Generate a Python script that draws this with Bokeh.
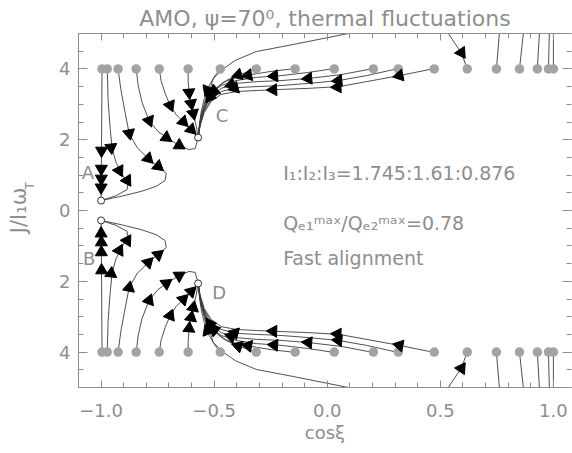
import math
from bokeh.plotting import figure
from bokeh.models import LinearAxis, FixedTicker, CustomJSTickFormatter, Range1d, Label
from bokeh.embed import file_html
from bokeh.resources import INLINE

# ---------------- data (cos xi, J/I1 wT) ----------------
start_cos = [-0.996, -0.973, -0.925, -0.845, -0.743, -0.615, -0.473, -0.314, -0.142,
             0.031, 0.204, 0.314, 0.473, 0.619, 0.748, 0.850, 0.929, 0.978, 1.000]
start_J = 4.0

attr_cos = [-1.0, -1.0, -0.571, -0.571]
attr_J = [0.28, -0.28, 2.06, -2.06]
attr_names = ["A", "B", "C", "D"]

# upper-half trajectories (lower half is their mirror image)
t1_c = [-0.996, -0.998, -1.000]
t1_j = [4.00, 2.00, 0.28]
a1_c = [-0.998, -0.999, -0.999, -1.000]
a1_j = [1.69, 1.18, 0.90, 0.65]

t2_c = [-0.973, -0.969, -0.960, -0.951, -0.934, -0.907, -0.881, -0.885, -0.934, -1.000]
t2_j = [4.01, 3.11, 2.32, 1.75, 1.36, 1.02, 0.76, 0.59, 0.42, 0.28]
a2_c = [-0.956, -0.920, -0.885]
a2_j = [1.78, 1.13, 0.85]

t3_c = [-0.925, -0.912, -0.894, -0.876, -0.841, -0.792, -0.748, -0.712, -0.717, -0.757, -0.823, -0.912, -1.000]
t3_j = [4.00, 3.39, 2.77, 2.18, 1.78, 1.47, 1.24, 1.05, 0.85, 0.68, 0.54, 0.40, 0.28]
a3_c = [-0.876, -0.792, -0.748]
a3_j = [2.18, 1.47, 1.25]

t4_c = [-0.845, -0.836, -0.819, -0.788, -0.748, -0.699, -0.655, -0.611, -0.584, -0.571]
t4_j = [4.01, 3.53, 3.05, 2.54, 2.23, 2.01, 1.84, 1.72, 1.75, 2.06]
a4_c = [-0.788, -0.712, -0.655]
a4_j = [2.54, 2.06, 1.84]

t5_c = [-0.743, -0.735, -0.717, -0.695, -0.668, -0.637, -0.602, -0.571]
t5_j = [4.01, 3.67, 3.31, 2.97, 2.71, 2.51, 2.29, 2.06]
a5_c = [-0.695, -0.637, -0.602]
a5_j = [2.97, 2.51, 2.29]

t6_c = [-0.615, -0.615, -0.611, -0.602, -0.593, -0.580, -0.571]
t6_j = [4.01, 3.67, 3.33, 3.02, 2.74, 2.40, 2.06]
a6_c = [-0.611, -0.602, -0.593]
a6_j = [3.33, 3.02, 2.74]

t7_c = [-0.473, -0.496, -0.522, -0.544, -0.558, -0.566, -0.571]
t7_j = [4.01, 3.81, 3.53, 3.16, 2.77, 2.40, 2.06]
a7_c = [-0.530]
a7_j = [3.40]

t8_c = [-0.314, -0.358, -0.403, -0.447, -0.491, -0.527, -0.553, -0.566, -0.571]
t8_j = [4.01, 3.90, 3.81, 3.67, 3.45, 3.11, 2.68, 2.34, 2.06]
a8_c = [-0.394, -0.520]
a8_j = [3.83, 3.20]

t9_c = [-0.142, -0.248, -0.336, -0.403, -0.460, -0.504, -0.535, -0.558, -0.571]
t9_j = [4.01, 3.93, 3.84, 3.76, 3.62, 3.39, 3.05, 2.66, 2.06]
a9_c = [-0.350, -0.513]
a9_j = [3.82, 3.30]

t10_c = [0.031, -0.084, -0.204, -0.314, -0.403, -0.469, -0.513, -0.544, -0.562, -0.571]
t10_j = [4.01, 3.90, 3.81, 3.76, 3.67, 3.53, 3.31, 2.97, 2.54, 2.06]
a10_c = [-0.235, -0.500]
a10_j = [3.80, 3.38]

t11_c = [0.204, 0.062, -0.084, -0.204, -0.314, -0.403, -0.469, -0.513, -0.544, -0.562, -0.571]
t11_j = [4.01, 3.84, 3.73, 3.67, 3.64, 3.59, 3.45, 3.22, 2.88, 2.49, 2.06]
a11_c = [-0.084, -0.425]
a11_j = [3.73, 3.56]

t12_c = [0.314, 0.173, 0.049, -0.084, -0.204, -0.314, -0.403, -0.469, -0.513, -0.544, -0.562, -0.571]
t12_j = [4.01, 3.81, 3.67, 3.59, 3.53, 3.50, 3.47, 3.36, 3.14, 2.82, 2.43, 2.06]
a12_c = [0.049, -0.410]
a12_j = [3.67, 3.46]

t13_c = [0.473, 0.319, 0.173, 0.053, -0.084, -0.204, -0.314, -0.403, -0.469, -0.513, -0.544, -0.562, -0.571]
t13_j = [4.01, 3.81, 3.64, 3.50, 3.45, 3.42, 3.39, 3.36, 3.28, 3.08, 2.77, 2.40, 2.06]
a13_c = [0.319, 0.045, -0.239]
a13_j = [3.81, 3.49, 3.41]

t_out_c = [0.093, -0.150, -0.314, -0.407, -0.460, -0.504, -0.515, -0.540, -0.558, -0.571]
t_out_j = [5.00, 4.69, 4.49, 4.24, 4.00, 3.73, 3.50, 3.10, 2.66, 2.06]

t14_c = [0.535, 0.593, 0.619]
t14_j = [5.00, 4.45, 4.00]
a14_c = [0.593]
a14_j = [4.46]

t15_c = [0.761, 0.748]
t15_j = [5.00, 4.00]
t16_c = [0.867, 0.850]
t16_j = [5.00, 4.00]
t17_c = [0.938, 0.929]
t17_j = [5.00, 4.00]
t18_c = [0.982, 0.978]
t18_j = [5.00, 4.00]
t19_c = [1.000, 1.000]
t19_j = [5.00, 4.00]

x_major = [-1.0, -0.5, 0.0, 0.5, 1.0]
y_major = [-4, -2, 0, 2, 4]

title_text = "AMO, \u03c8=70\u2070, thermal fluctuations"
x_label = "cos\u03be"
y_label_main = "J/I\u2081\u03c9"
y_label_sub = "T"
info_lines = ["I\u2081:I\u2082:I\u2083=1.745:1.61:0.876",
              "Q\u2091\u2081\u1d50\u1d43\u02e3/Q\u2091\u2082\u1d50\u1d43\u02e3=0.78",
              "Fast alignment"]

# ---------------- layout ----------------
W, H = 572, 453
BL, BR, BT, BB = 78, 1, 33, 66
x0, x1 = -1.1, 1.08
y0, y1 = -5.0, 5.0
FW, FH = W - BL - BR, H - BT - BB
KX, KY = FW / (x1 - x0), FH / (y1 - y0)

GRAY = "#8e8e8e"
LINE = "#3c3c3c"
DOT = "#a3a3a3"
FONT = "DejaVu Sans"

p = figure(width=W, height=H, x_range=Range1d(x0, x1), y_range=Range1d(y0, y1),
           output_backend="svg", toolbar_location=None, x_axis_type=None, y_axis_type=None,
           min_border_left=BL, min_border_right=BR, min_border_top=BT, min_border_bottom=BB)
p.outline_line_color = None
p.background_fill_color = "white"
p.border_fill_color = "white"

p.title.text = title_text
p.title.align = "center"
p.title.text_font = FONT
p.title.text_font_size = "22px"
p.title.text_font_style = "normal"
p.title.text_color = GRAY
p.title.standoff = 6

x_minor = [round(-1.1 + 0.1 * i, 2) for i in range(22)]
y_minor = [round(-5 + 0.5 * i, 2) for i in range(21)]


def make_axis(ticks, minor, code, show, tin, tmin, standoff, line=True):
    ax = LinearAxis(ticker=FixedTicker(ticks=ticks, minor_ticks=minor),
                    formatter=CustomJSTickFormatter(code=code))
    ax.axis_line_color = GRAY if line else None
    ax.major_tick_line_color = GRAY
    ax.minor_tick_line_color = GRAY
    ax.major_tick_in = tin
    ax.major_tick_out = 0
    ax.minor_tick_in = tmin
    ax.minor_tick_out = 0
    ax.major_label_text_color = GRAY
    ax.major_label_text_font = FONT
    ax.major_label_standoff = standoff
    ax.axis_label_text_font = FONT
    ax.axis_label_text_font_style = "normal"
    ax.axis_label_text_color = GRAY
    if show:
        ax.major_label_text_font_size = "18px"
    else:
        ax.major_label_text_font_size = "0px"
        ax.major_label_standoff = 0
    return ax


def label_axis(text, size, standoff):
    ax = LinearAxis(ticker=FixedTicker(ticks=[]), formatter=CustomJSTickFormatter(code="return '';"))
    ax.axis_line_color = None
    ax.major_tick_line_color = None
    ax.minor_tick_line_color = None
    ax.major_tick_in = 0
    ax.major_tick_out = 0
    ax.minor_tick_in = 0
    ax.minor_tick_out = 0
    ax.major_label_text_font_size = "0px"
    ax.major_label_standoff = 0
    ax.axis_label = text
    ax.axis_label_text_font = FONT
    ax.axis_label_text_font_style = "normal"
    ax.axis_label_text_font_size = size
    ax.axis_label_text_color = GRAY
    ax.axis_label_standoff = standoff
    return ax


xcode = "return (tick < 0 ? '\\u2212' : '') + Math.abs(tick).toFixed(1);"
ycode = "return Math.abs(tick).toFixed(0);"
bottom = make_axis(x_major, x_minor, xcode, True, 7, 5, 16)
bottom.axis_label = x_label
bottom.axis_label_text_font_size = "18px"
bottom.axis_label_standoff = 2
p.add_layout(bottom, "below")
p.add_layout(make_axis(x_major, x_minor, "return '';", False, 7, 5, 0), "above")
p.add_layout(make_axis(y_major, y_minor, ycode, True, 9, 5, 8), "left")
pad = "\u00a0" * 13
p.add_layout(label_axis(pad + y_label_sub, "12px", 20), "left")
p.add_layout(label_axis(y_label_main, "21px", -11), "left")
p.add_layout(make_axis(y_major, y_minor, "return '';", False, 9, 5, 0, line=False), "right")

upper = [
    (t1_c, t1_j, a1_c, a1_j), (t2_c, t2_j, a2_c, a2_j), (t3_c, t3_j, a3_c, a3_j),
    (t4_c, t4_j, a4_c, a4_j), (t5_c, t5_j, a5_c, a5_j), (t6_c, t6_j, a6_c, a6_j),
    (t7_c, t7_j, a7_c, a7_j), (t8_c, t8_j, a8_c, a8_j), (t9_c, t9_j, a9_c, a9_j),
    (t10_c, t10_j, a10_c, a10_j), (t11_c, t11_j, a11_c, a11_j),
    (t12_c, t12_j, a12_c, a12_j), (t13_c, t13_j, a13_c, a13_j),
    (t_out_c, t_out_j, [], []), (t14_c, t14_j, a14_c, a14_j),
    (t15_c, t15_j, [], []), (t16_c, t16_j, [], []), (t17_c, t17_j, [], []),
    (t18_c, t18_j, [], []), (t19_c, t19_j, [], []),
]

# mirror to lower half
all_tr = []
for c, j, ac, aj in upper:
    all_tr.append((c, j, ac, aj))
    all_tr.append((c, [-v for v in j], ac, [-v for v in aj]))


def arrow_angle(c, j, ax_, ay_):
    best, bd = 0, 1e18
    px, py = ax_ * KX, ay_ * KY
    for i in range(len(c) - 1):
        xa, ya = c[i] * KX, j[i] * KY
        xb, yb = c[i + 1] * KX, j[i + 1] * KY
        dx, dy = xb - xa, yb - ya
        L2 = dx * dx + dy * dy
        t = 0 if L2 == 0 else max(0, min(1, ((px - xa) * dx + (py - ya) * dy) / L2))
        qx, qy = xa + t * dx, ya + t * dy
        d = (qx - px) ** 2 + (qy - py) ** 2
        if d < bd:
            bd, best = d, i
    dx = (c[best + 1] - c[best]) * KX
    dy = (j[best + 1] - j[best]) * KY
    return math.atan2(dy, dx) - math.pi / 2


xs, ys = [], []
arx, ary, ang = [], [], []
for c, j, ac, aj in all_tr:
    xs.append(c)
    ys.append(j)
    for a, b in zip(ac, aj):
        arx.append(a)
        ary.append(b)
        ang.append(arrow_angle(c, j, a, b))

p.multi_line(xs, ys, line_color=LINE, line_width=0.9)

p.scatter(start_cos + start_cos, [start_J] * len(start_cos) + [-start_J] * len(start_cos),
          marker="circle", size=9.5, fill_color=DOT, line_color=None)

p.scatter(arx, ary, marker="triangle", size=12, angle=ang, fill_color="black", line_color="black")

p.scatter(attr_cos, attr_J, marker="circle", size=7, fill_color="white", line_color="black", line_width=0.8)

# attractor letters (data coords)
name_pos_c = [-1.058, -1.053, -0.465, -0.478]
name_pos_j = [1.07, -1.36, 2.68, -2.32]
for n, cx, cy in zip(attr_names, name_pos_c, name_pos_j):
    p.add_layout(Label(x=cx, y=cy, text=n, text_align="center", text_baseline="middle",
                       text_font=FONT, text_font_size="18px", text_color=GRAY))

info_j = [1.07, -0.34, -1.33]
for t, yy in zip(info_lines, info_j):
    p.add_layout(Label(x=-0.195, y=yy, text=t, text_align="left", text_baseline="middle",
                       text_font=FONT, text_font_size="19px", text_color=GRAY))

open("out.html", "w").write(file_html(p, INLINE))
